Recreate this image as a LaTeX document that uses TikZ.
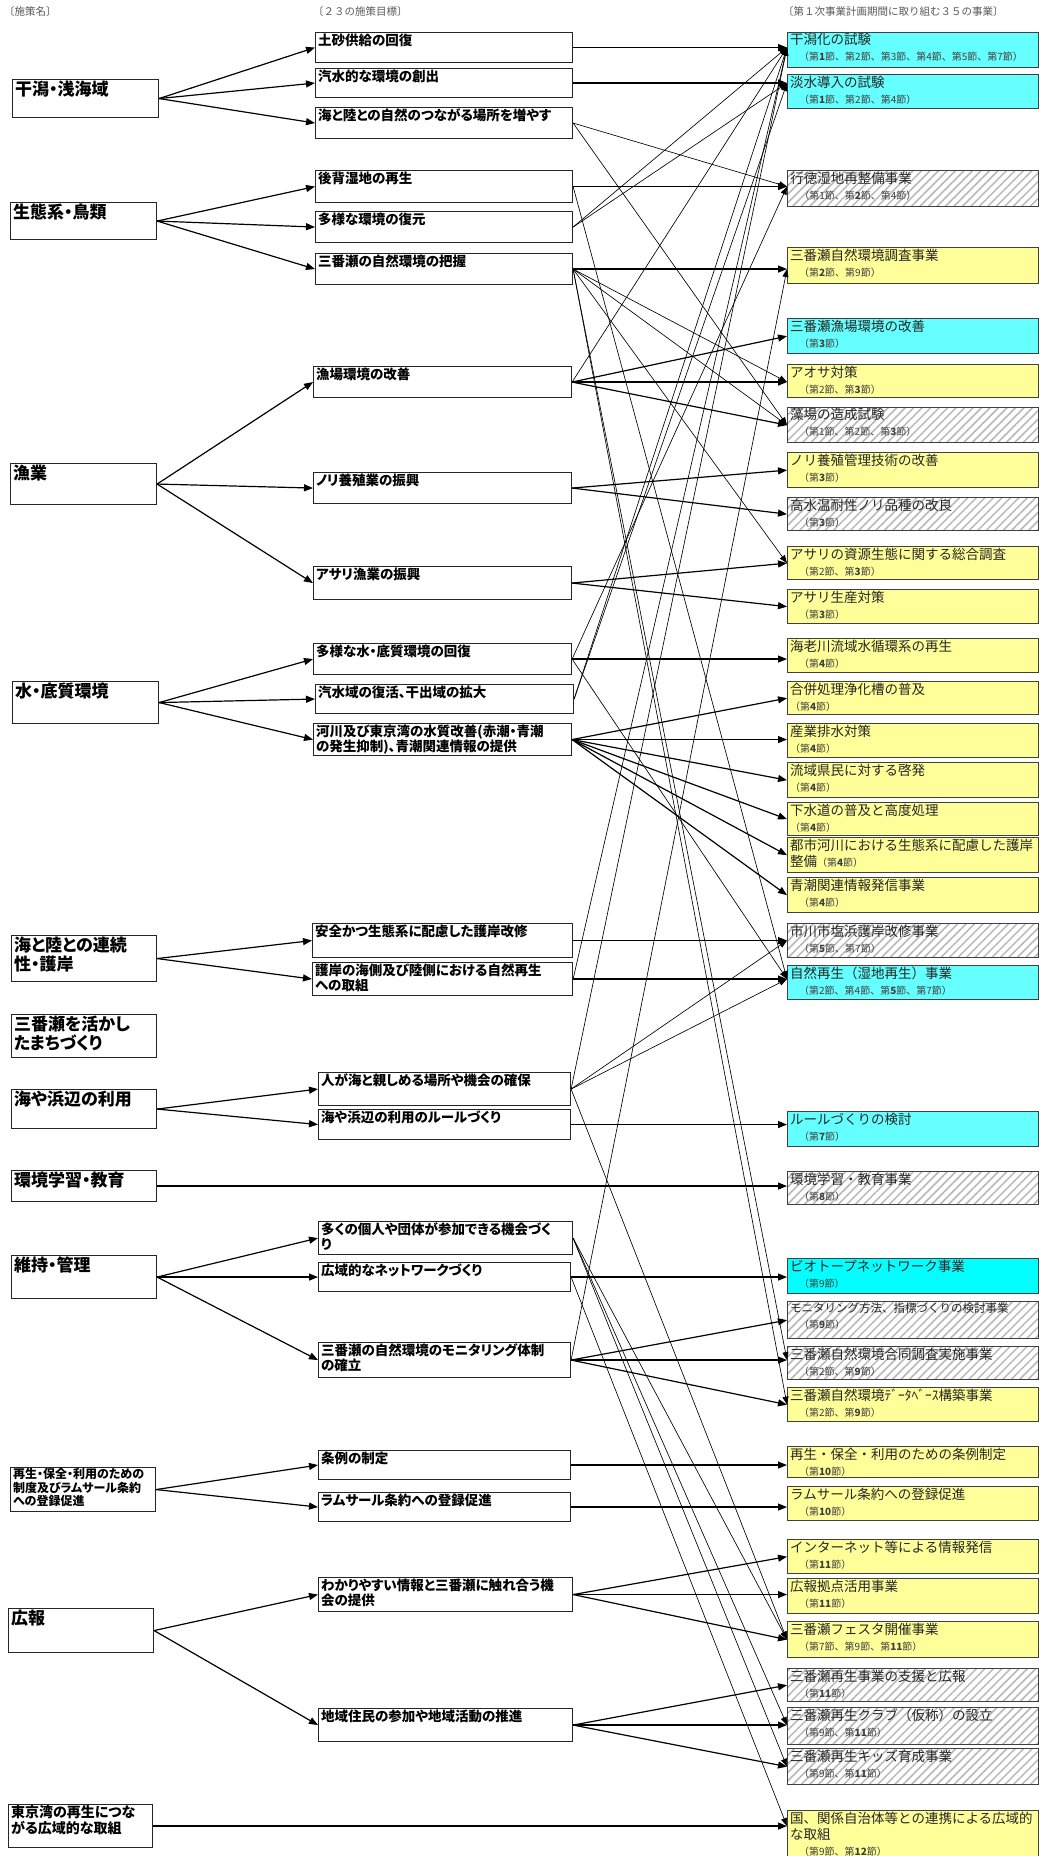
\documentclass[tikz,border=0pt]{standalone}
\usepackage{fontspec}
\setmainfont{Noto Sans CJK JP}
\newfontfamily\pf{Noto Sans CJK JP}[RawFeature=+palt]
\usetikzlibrary{arrows.meta,patterns.meta}
\definecolor{cyA}{HTML}{66FFFF}
\definecolor{cyB}{HTML}{00FFFF}
\definecolor{yel}{HTML}{FFFF99}
\newcommand\bx[3]{\parbox[c][#2pt][t]{#1pt}{\raggedright\leftskip=2.5pt\parindent=0pt\vspace*{1pt}#3}}
\newcommand\sbi[1]{\\{\fontsize{10}{16}\selectfont\color{black!75}\hspace*{9pt}#1}}
\newcommand\sbn[1]{\\{\fontsize{10}{16}\selectfont\color{black!75}#1}}
\begin{document}
\begin{tikzpicture}[x=1pt,y=-1pt,
  hd/.style={font=\fontsize{10.5}{12}\selectfont, text=black!65, inner sep=0pt, anchor=west},
  lb/.style={draw=black!85, line width=1.1pt, inner sep=0pt, anchor=north west, fill=white, font=\pf\bfseries\fontsize{17}{19}\selectfont},
  mb/.style={draw=black!85, line width=1.1pt, inner sep=0pt, anchor=north west, fill=white, font=\pf\bfseries\fontsize{13.5}{15}\selectfont},
  rb/.style={draw=black!75, line width=1.3pt, inner sep=0pt, anchor=north west, font=\fontsize{13.5}{16}\selectfont, text=black!85},
  hat/.style={pattern={Lines[angle=45,distance=6pt,line width=1.5pt]}, pattern color=black!28},
  sa/.style={line width=1.2pt, -{Triangle[length=9pt,width=7pt]}},
  ta/.style={line width=0.65pt, -{Triangle[length=8pt,width=6pt]}}]
\fill[white] (0,0) rectangle (1039,1856);
\useasboundingbox (0,0) rectangle (1039,1856);

% headers
\node[hd] (H1) at (4,12) {〔施策名〕};
\node[hd] (H2) at (313,12) {〔２３の施策目標〕};
\node[hd] (H3) at (783,12) {〔第１次事業計画期間に取り組む３５の事業〕};

% left column
\node[lb] (L1) at (12,79) {\bx{146}{38}{干潟・浅海域}};
\node[lb] (L2) at (10,202) {\bx{146}{37}{生態系・鳥類}};
\node[lb] (L3) at (10,463) {\bx{146}{41}{漁業}};
\node[lb] (L4) at (12,681) {\bx{146}{42}{水・底質環境}};
\node[lb] (L5) at (11,935) {\bx{145}{46}{海と陸との連続\\性・護岸}};
\node[lb] (L6) at (11,1014) {\bx{145}{43}{三番瀬を活かし\\たまちづくり}};
\node[lb] (L7) at (11,1089) {\bx{145}{39}{海や浜辺の利用}};
\node[lb] (L8) at (11,1170) {\bx{145}{31}{環境学習・教育}};
\node[lb] (L9) at (11,1255) {\bx{145}{43}{維持・管理}};
\node[lb,font=\pf\bfseries\fontsize{12}{13.5}\selectfont] (L10) at (10,1467) {\bx{145}{44}{再生・保全・利用のための\\制度及びラムサール条約\\への登録促進}};
\node[lb] (L11) at (8,1608) {\bx{145}{44}{広報}};
\node[lb,font=\pf\bfseries\fontsize{14}{16}\selectfont] (L12) at (8,1804) {\bx{144}{43}{東京湾の再生につな\\がる広域的な取組}};

% middle column
\node[mb] (M1) at (315,32) {\bx{257}{30}{土砂供給の回復}};
\node[mb] (M2) at (315,68) {\bx{257}{29}{汽水的な環境の創出}};
\node[mb] (M3) at (315,107) {\bx{257}{31}{海と陸との自然のつながる場所を増やす}};
\node[mb] (M4) at (315,170) {\bx{257}{32}{後背湿地の再生}};
\node[mb] (M5) at (315,211) {\bx{257}{31}{多様な環境の復元}};
\node[mb] (M6) at (315,253) {\bx{257}{31}{三番瀬の自然環境の把握}};
\node[mb] (M7) at (313,366) {\bx{258}{31}{漁場環境の改善}};
\node[mb] (M8) at (313,472) {\bx{258}{31}{ノリ養殖業の振興}};
\node[mb] (M9) at (313,566) {\bx{258}{33}{アサリ漁業の振興}};
\node[mb] (M10) at (313,643) {\bx{258}{31}{多様な水・底質環境の回復}};
\node[mb] (M11) at (315,684) {\bx{258}{29}{汽水域の復活、干出域の拡大}};
\node[mb] (M12) at (313,723) {\bx{258}{32}{河川及び東京湾の水質改善(赤潮・青潮\\の発生抑制)、青潮関連情報の提供}};
\node[mb] (M13) at (312,923) {\bx{260}{34}{安全かつ生態系に配慮した護岸改修}};
\node[mb] (M14) at (312,962) {\bx{260}{33}{護岸の海側及び陸側における自然再生\\への取組}};
\node[mb] (M15) at (318,1072) {\bx{252}{33}{人が海と親しめる場所や機会の確保}};
\node[mb] (M16) at (318,1109) {\bx{252}{30}{海や浜辺の利用のルールづくり}};
\node[mb] (M17) at (318,1221) {\bx{254}{33}{多くの個人や団体が参加できる機会づく\\り}};
\node[mb] (M18) at (318,1262) {\bx{252}{29}{広域的なネットワークづくり}};
\node[mb] (M19) at (318,1342) {\bx{252}{35}{三番瀬の自然環境のモニタリング体制\\の確立}};
\node[mb] (M20) at (318,1450) {\bx{252}{29}{条例の制定}};
\node[mb] (M21) at (318,1492) {\bx{252}{29}{ラムサール条約への登録促進}};
\node[mb] (M22) at (318,1577) {\bx{254}{34}{わかりやすい情報と三番瀬に触れ合う機\\会の提供}};
\node[mb] (M23) at (318,1708) {\bx{254}{33}{地域住民の参加や地域活動の推進}};

% right column
\node[rb,fill=cyA] (R1) at (787,32) {\bx{251}{35}{干潟化の試験\sbi{（第\textbf{1}節、第2節、第3節、第4節、第5節、第7節）}}};
\node[rb,fill=cyA] (R2) at (787,74) {\bx{251}{34}{淡水導入の試験\sbi{（第\textbf{1}節、第2節、第4節）}}};
\node[rb,hat] (R3) at (787,170) {\bx{251}{36}{行徳湿地再整備事業\sbi{（第1節、第\textbf{2}節、第4節）}}};
\node[rb,fill=yel] (R4) at (787,247) {\bx{251}{36}{三番瀬自然環境調査事業\sbi{（第\textbf{2}節、第9節）}}};
\node[rb,fill=cyA] (R5) at (787,318) {\bx{251}{35}{三番瀬漁場環境の改善\sbi{（第\textbf{3}節）}}};
\node[rb,fill=yel] (R6) at (787,364) {\bx{251}{33}{アオサ対策\sbi{（第2節、第\textbf{3}節）}}};
\node[rb,hat] (R7) at (787,407) {\bx{251}{35}{藻場の造成試験\sbi{（第1節、第2節、第\textbf{3}節）}}};
\node[rb,fill=yel] (R8) at (787,452) {\bx{251}{35}{ノリ養殖管理技術の改善\sbi{（第\textbf{3}節）}}};
\node[rb,hat] (R9) at (787,497) {\bx{251}{33}{高水温耐性ノリ品種の改良\sbi{（第\textbf{3}節）}}};
\node[rb,fill=yel] (R10) at (787,546) {\bx{251}{33}{アサリの資源生態に関する総合調査\sbi{（第2節、第\textbf{3}節）}}};
\node[rb,fill=yel] (R11) at (787,589) {\bx{251}{34}{アサリ生産対策\sbi{（第\textbf{3}節）}}};
\node[rb,fill=yel] (R12) at (787,638) {\bx{251}{34}{海老川流域水循環系の再生\sbi{（第\textbf{4}節）}}};
\node[rb,fill=yel] (R13) at (787,681) {\bx{251}{33}{合併処理浄化槽の普及\sbn{（第\textbf{4}節）}}};
\node[rb,fill=yel] (R14) at (787,723) {\bx{251}{34}{産業排水対策\sbn{（第\textbf{4}節）}}};
\node[rb,fill=yel] (R15) at (787,762) {\bx{251}{35}{流域県民に対する啓発\sbn{（第\textbf{4}節）}}};
\node[rb,fill=yel] (R16) at (787,802) {\bx{251}{33}{下水道の普及と高度処理\sbn{（第\textbf{4}節）}}};
\node[rb,fill=yel] (R17) at (787,837) {\bx{251}{35}{都市河川における生態系に配慮した護岸\\整備{\fontsize{10}{16}\selectfont\color{black!75}（第\textbf{4}節）}}};
\node[rb,fill=yel] (R18) at (787,877) {\bx{251}{35}{青潮関連情報発信事業\sbi{（第\textbf{4}節）}}};
\node[rb,hat] (R19) at (787,923) {\bx{251}{34}{市川市塩浜護岸改修事業\sbi{（第\textbf{5}節、第7節）}}};
\node[rb,fill=cyA] (R20) at (787,965) {\bx{251}{34}{自然再生（湿地再生）事業\sbi{（第2節、第4節、第\textbf{5}節、第7節）}}};
\node[rb,fill=cyA] (R21) at (787,1111) {\bx{251}{35}{ルールづくりの検討\sbi{（第\textbf{7}節）}}};
\node[rb,hat] (R22) at (787,1171) {\bx{251}{33}{環境学習・教育事業\sbi{（第\textbf{8}節）}}};
\node[rb,fill=cyB] (R23) at (787,1258) {\bx{251}{35}{ビオトープネットワーク事業\sbi{（第9節）}}};
\node[rb,hat] (R24) at (787,1301) {\bx{251}{37}{{\fontsize{11.5}{16}\selectfont モニタリング方法、指標づくりの検討事業}\sbi{（第\textbf{9}節）}}};
\node[rb,hat] (R25) at (787,1346) {\bx{251}{33}{三番瀬自然環境合同調査実施事業\sbi{（第2節、第\textbf{9}節）}}};
\node[rb,fill=yel] (R26) at (787,1387) {\bx{251}{34}{三番瀬自然環境ﾃﾞｰﾀﾍﾞｰｽ構築事業\sbi{（第2節、第\textbf{9}節）}}};
\node[rb,fill=yel] (R27) at (787,1446) {\bx{251}{31}{再生・保全・利用のための条例制定\sbi{（第\textbf{10}節）}}};
\node[rb,fill=yel] (R28) at (787,1486) {\bx{251}{34}{ラムサール条約への登録促進\sbi{（第\textbf{10}節）}}};
\node[rb,fill=yel] (R29) at (787,1539) {\bx{251}{34}{インターネット等による情報発信\sbi{（第\textbf{11}節）}}};
\node[rb,fill=yel] (R30) at (787,1578) {\bx{251}{35}{広報拠点活用事業\sbi{（第\textbf{11}節）}}};
\node[rb,fill=yel] (R31) at (787,1621) {\bx{251}{36}{三番瀬フェスタ開催事業\sbi{（第7節、第9節、第\textbf{11}節）}}};
\node[rb,hat] (R32) at (787,1668) {\bx{251}{33}{三番瀬再生事業の支援と広報\sbi{（第\textbf{11}節）}}};
\node[rb,hat] (R33) at (787,1707) {\bx{251}{37}{三番瀬再生クラブ（仮称）の設立\sbi{（第9節、第\textbf{11}節）}}};
\node[rb,hat] (R34) at (787,1748) {\bx{251}{36}{三番瀬再生キッズ育成事業\sbi{（第9節、第\textbf{11}節）}}};
\node[rb,fill=yel] (R35) at (787,1810) {\bx{251}{52}{国、関係自治体等との連携による広域的\\な取組\sbi{（第9節、第\textbf{12}節）}}};

% arrival points
\foreach \k in {5,7,8,9,10,11,13,15,16,17,18,24,26,29,31,32,34}
  \coordinate (i\k) at (R\k.west);
\coordinate (i1) at (R1.west |- M1.east);
\coordinate (i2) at (R2.west |- M2.east);
\coordinate (i3) at (R3.west |- M4.east);
\coordinate (i4) at (R4.west |- M6.east);
\coordinate (i6) at (R6.west |- M7.east);
\coordinate (i12) at (R12.west |- M10.east);
\coordinate (i14) at (R14.west |- M12.east);
\coordinate (i19) at (R19.west |- M13.east);
\coordinate (i20) at (R20.west |- M14.east);
\coordinate (i21) at (R21.west |- M16.east);
\coordinate (i22) at (R22.west |- L8.east);
\coordinate (i23) at (R23.west |- M18.east);
\coordinate (i25) at (R25.west |- M19.east);
\coordinate (i27) at (R27.west |- M20.east);
\coordinate (i28) at (R28.west |- M21.east);
\coordinate (i30) at (R30.west |- M22.east);
\coordinate (i33) at (R33.west |- M23.east);
\coordinate (i35) at (R35.west |- L12.east);

% left -> middle
\foreach \a/\b in {L1/M1,L1/M2,L1/M3,L2/M4,L2/M5,L2/M6,L3/M7,L3/M8,L3/M9,L4/M10,L4/M11,L4/M12,L5/M13,L5/M14,L7/M15,L7/M16,L9/M17,L9/M18,L9/M19,L10/M20,L10/M21,L11/M22,L11/M23}
  \draw[sa] (\a.east) -- (\b.west);

% middle -> right, main (thick)
\foreach \a/\b in {M1/1,M2/2,M4/3,M6/4,M7/5,M7/6,M7/7,M8/8,M8/9,M9/10,M9/11,M10/12,M12/13,M12/14,M12/15,M12/16,M12/17,M12/18,M13/19,M14/20,M16/21,L8/22,M18/23,M19/24,M19/25,M19/26,M20/27,M21/28,M22/29,M22/30,M22/31,M23/32,M23/33,M23/34,L12/35}
  \draw[sa] (\a.east) -- (i\b);

% middle -> right, related (thin)
\foreach \a/\b in {M3/3,M3/7,M4/20,M5/1,M5/2,M6/6,M6/7,M6/10,M6/25,M6/26,M7/1,M10/3,M10/20,M11/1,M11/2,M14/1,M15/1,M15/19,M15/20,M15/31,M17/31,M17/33,M17/34,M18/35,M19/4}
  \draw[ta] (\a.east) -- (i\b);
\end{tikzpicture}
\end{document}
